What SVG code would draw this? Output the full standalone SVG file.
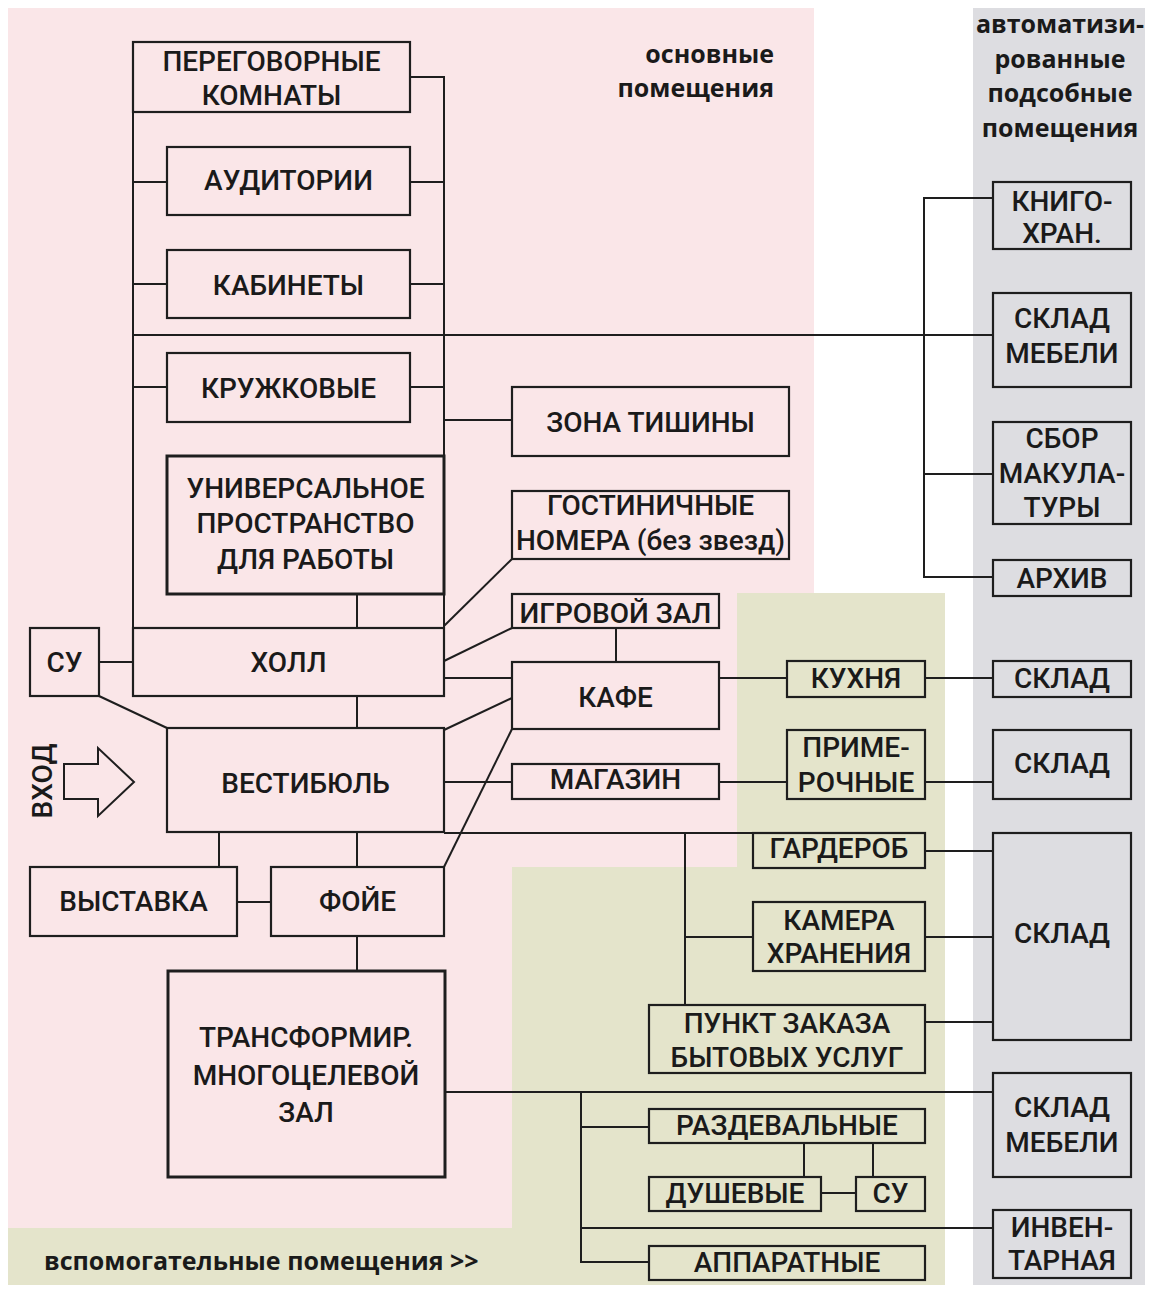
<svg xmlns="http://www.w3.org/2000/svg" width="1153" height="1290" viewBox="0 0 1153 1290">
  <style>
    .box { fill: none; stroke: #1e1e1e; stroke-width: 2.2; }
    .heavy { stroke-width: 3; }
    .wire { fill: none; stroke: #1e1e1e; stroke-width: 2; }
    .lbl { font-family: Roboto, "Liberation Sans", sans-serif; font-weight: 500; font-size: 28px; text-anchor: middle; fill: #1a1a1a; }
    .cap { font-family: "Open Sans", "Liberation Sans", sans-serif; font-weight: 700; font-size: 25px; fill: #1a1a1a; }
  </style>
  <rect width="1153" height="1290" fill="#ffffff"/>
  <!-- zones -->
  <g id="zones">
    <path id="zone-main" d="M8,8 H814 V593 H737 V867 H512 V1228 H8 Z" fill="#fae6e8"/>
    <path id="zone-aux" d="M737,593 H945 V1285 H8 V1228 H512 V867 H737 Z" fill="#e4e4cb"/>
    <rect id="zone-auto" x="973" y="8" width="172" height="1277" fill="#dddde1"/>
  </g>
  <g id="captions">
    <text class="cap" x="774" y="63" text-anchor="end">основные</text>
    <text class="cap" x="774" y="97" text-anchor="end">помещения</text>
    <text class="cap" x="1060" y="33" text-anchor="middle" font-size="26">автоматизи-</text>
    <text class="cap" x="1060" y="68" text-anchor="middle" font-size="26">рованные</text>
    <text class="cap" x="1060" y="102" text-anchor="middle" font-size="26">подсобные</text>
    <text class="cap" x="1060" y="137" text-anchor="middle" font-size="26">помещения</text>
    <text class="cap" x="44" y="1270">вспомогательные помещения &gt;&gt;</text>
  </g>
  <!-- connectors -->
  <g id="connectors" class="wire">
    <line x1="133" y1="112" x2="133" y2="628"/>
    <path d="M410,77 H444 V628"/>
    <line x1="133" y1="182" x2="167" y2="182"/>
    <line x1="410" y1="182" x2="444" y2="182"/>
    <line x1="133" y1="284" x2="167" y2="284"/>
    <line x1="410" y1="284" x2="444" y2="284"/>
    <line x1="133" y1="387" x2="167" y2="387"/>
    <line x1="410" y1="387" x2="444" y2="387"/>
    <line x1="133" y1="335" x2="993" y2="335"/>
    <line x1="444" y1="420" x2="512" y2="420"/>
    <line x1="357" y1="594" x2="357" y2="628"/>
    <line x1="512" y1="559" x2="444" y2="626"/>
    <line x1="512" y1="628" x2="444" y2="661"/>
    <line x1="444" y1="678" x2="512" y2="678"/>
    <line x1="616" y1="628" x2="616" y2="662"/>
    <line x1="444" y1="730" x2="512" y2="698"/>
    <line x1="444" y1="867" x2="512" y2="729"/>
    <line x1="444" y1="782" x2="512" y2="782"/>
    <line x1="719" y1="678" x2="787" y2="678"/>
    <line x1="925" y1="678" x2="993" y2="678"/>
    <line x1="719" y1="782" x2="787" y2="782"/>
    <line x1="925" y1="782" x2="993" y2="782"/>
    <line x1="444" y1="833" x2="753" y2="833"/>
    <line x1="685" y1="833" x2="685" y2="1005"/>
    <line x1="685" y1="937" x2="753" y2="937"/>
    <line x1="925" y1="937" x2="993" y2="937"/>
    <line x1="925" y1="851" x2="993" y2="851"/>
    <line x1="925" y1="1022" x2="993" y2="1022"/>
    <line x1="99" y1="662" x2="133" y2="662"/>
    <line x1="99" y1="696" x2="167" y2="728"/>
    <line x1="357" y1="696" x2="357" y2="728"/>
    <line x1="219" y1="832" x2="219" y2="867"/>
    <line x1="357" y1="832" x2="357" y2="867"/>
    <line x1="237" y1="902" x2="271" y2="902"/>
    <line x1="357" y1="936" x2="357" y2="971"/>
    <line x1="445" y1="1092" x2="993" y2="1092"/>
    <path d="M581,1092 V1262 H649"/>
    <line x1="581" y1="1127" x2="649" y2="1127"/>
    <line x1="804" y1="1143" x2="804" y2="1177"/>
    <line x1="873" y1="1143" x2="873" y2="1177"/>
    <line x1="821" y1="1193" x2="856" y2="1193"/>
    <line x1="581" y1="1228" x2="993" y2="1228"/>
    <path d="M993,198 H924 V577 H993"/>
    <line x1="924" y1="474" x2="993" y2="474"/>
  </g>
  <!-- entrance -->
  <g id="entrance">
    <polygon points="64,764 98,764 98,748 134,782 98,816 98,799 64,799" class="wire"/>
    <text class="lbl" transform="translate(52,781) rotate(-90)">ВХОД</text>
  </g>
  <!-- main rooms -->
  <g id="n-meeting"><rect class="box" x="133" y="42" width="277" height="70"/><text class="lbl" x="271.5" y="71">ПЕРЕГОВОРНЫЕ</text><text class="lbl" x="271.5" y="105">КОМНАТЫ</text></g>
  <g id="n-auditoria"><rect class="box" x="167" y="147" width="243" height="68"/><text class="lbl" x="288.5" y="190">АУДИТОРИИ</text></g>
  <g id="n-offices"><rect class="box" x="167" y="250" width="243" height="68"/><text class="lbl" x="288.5" y="295">КАБИНЕТЫ</text></g>
  <g id="n-clubs"><rect class="box" x="167" y="353" width="243" height="69"/><text class="lbl" x="288.5" y="398">КРУЖКОВЫЕ</text></g>
  <g id="n-workspace"><rect class="box heavy" x="167" y="456" width="277" height="138"/><text class="lbl" x="305.5" y="498">УНИВЕРСАЛЬНОЕ</text><text class="lbl" x="305.5" y="533">ПРОСТРАНСТВО</text><text class="lbl" x="305.5" y="569">ДЛЯ РАБОТЫ</text></g>
  <g id="n-quiet"><rect class="box" x="512" y="387" width="277" height="69"/><text class="lbl" x="650.5" y="432">ЗОНА ТИШИНЫ</text></g>
  <g id="n-hotel"><rect class="box" x="512" y="491" width="277" height="68"/><text class="lbl" x="650.5" y="515">ГОСТИНИЧНЫЕ</text><text class="lbl" x="650.5" y="550">НОМЕРА (без звезд)</text></g>
  <g id="n-games"><rect class="box" x="512" y="594" width="207" height="34"/><text class="lbl" x="615.5" y="623">ИГРОВОЙ ЗАЛ</text></g>
  <g id="n-hall"><rect class="box" x="133" y="628" width="311" height="68"/><text class="lbl" x="288.5" y="672">ХОЛЛ</text></g>
  <g id="n-wc1"><rect class="box" x="30" y="628" width="69" height="68"/><text class="lbl" x="64.5" y="672">СУ</text></g>
  <g id="n-cafe"><rect class="box" x="512" y="662" width="207" height="67"/><text class="lbl" x="615.5" y="707">КАФЕ</text></g>
  <g id="n-lobby"><rect class="box" x="167" y="728" width="277" height="104"/><text class="lbl" x="305.5" y="793">ВЕСТИБЮЛЬ</text></g>
  <g id="n-shop"><rect class="box" x="512" y="764" width="207" height="35"/><text class="lbl" x="615.5" y="789">МАГАЗИН</text></g>
  <g id="n-exhibition"><rect class="box" x="30" y="867" width="207" height="69"/><text class="lbl" x="133.5" y="911">ВЫСТАВКА</text></g>
  <g id="n-foyer"><rect class="box" x="271" y="867" width="173" height="69"/><text class="lbl" x="357.5" y="911">ФОЙЕ</text></g>
  <g id="n-multihall"><rect class="box heavy" x="168" y="971" width="277" height="206"/><text class="lbl" x="306" y="1047">ТРАНСФОРМИР.</text><text class="lbl" x="306" y="1085">МНОГОЦЕЛЕВОЙ</text><text class="lbl" x="306" y="1122">ЗАЛ</text></g>
  <!-- auxiliary rooms -->
  <g id="n-kitchen"><rect class="box" x="787" y="661" width="138" height="36"/><text class="lbl" x="856" y="688">КУХНЯ</text></g>
  <g id="n-fitting"><rect class="box" x="787" y="730" width="138" height="69"/><text class="lbl" x="856" y="757">ПРИМЕ-</text><text class="lbl" x="856" y="792">РОЧНЫЕ</text></g>
  <g id="n-cloakroom"><rect class="box" x="753" y="833" width="172" height="35"/><text class="lbl" x="839" y="858">ГАРДЕРОБ</text></g>
  <g id="n-luggage"><rect class="box" x="753" y="902" width="172" height="69"/><text class="lbl" x="839" y="930">КАМЕРА</text><text class="lbl" x="839" y="963">ХРАНЕНИЯ</text></g>
  <g id="n-services"><rect class="box" x="649" y="1005" width="276" height="68"/><text class="lbl" x="787" y="1033">ПУНКТ ЗАКАЗА</text><text class="lbl" x="787" y="1067">БЫТОВЫХ УСЛУГ</text></g>
  <g id="n-changing"><rect class="box" x="649" y="1109" width="276" height="34"/><text class="lbl" x="787" y="1135">РАЗДЕВАЛЬНЫЕ</text></g>
  <g id="n-showers"><rect class="box" x="649" y="1177" width="172" height="34"/><text class="lbl" x="735" y="1203">ДУШЕВЫЕ</text></g>
  <g id="n-wc2"><rect class="box" x="856" y="1177" width="69" height="34"/><text class="lbl" x="890.5" y="1203">СУ</text></g>
  <g id="n-technical"><rect class="box" x="649" y="1246" width="276" height="34"/><text class="lbl" x="787" y="1272">АППАРАТНЫЕ</text></g>
  <!-- automated storage -->
  <g id="n-bookstore"><rect class="box" x="993" y="182" width="138" height="67"/><text class="lbl" x="1062" y="211" font-size="26">КНИГО-</text><text class="lbl" x="1062" y="243" font-size="26">ХРАН.</text></g>
  <g id="n-furniture1"><rect class="box" x="993" y="293" width="138" height="94"/><text class="lbl" x="1062" y="328">СКЛАД</text><text class="lbl" x="1062" y="363">МЕБЕЛИ</text></g>
  <g id="n-wastepaper"><rect class="box" x="993" y="422" width="138" height="102"/><text class="lbl" x="1062" y="448">СБОР</text><text class="lbl" x="1062" y="483">МАКУЛА-</text><text class="lbl" x="1062" y="517">ТУРЫ</text></g>
  <g id="n-archive"><rect class="box" x="993" y="560" width="138" height="36"/><text class="lbl" x="1062" y="588">АРХИВ</text></g>
  <g id="n-store-kitchen"><rect class="box" x="993" y="661" width="138" height="36"/><text class="lbl" x="1062" y="688">СКЛАД</text></g>
  <g id="n-store-fitting"><rect class="box" x="993" y="730" width="138" height="69"/><text class="lbl" x="1062" y="773">СКЛАД</text></g>
  <g id="n-store-main"><rect class="box" x="993" y="833" width="138" height="207"/><text class="lbl" x="1062" y="943">СКЛАД</text></g>
  <g id="n-furniture2"><rect class="box" x="993" y="1073" width="138" height="104"/><text class="lbl" x="1062" y="1117">СКЛАД</text><text class="lbl" x="1062" y="1152">МЕБЕЛИ</text></g>
  <g id="n-inventory"><rect class="box" x="993" y="1210" width="138" height="68"/><text class="lbl" x="1062" y="1237">ИНВЕН-</text><text class="lbl" x="1062" y="1270">ТАРНАЯ</text></g>
</svg>
